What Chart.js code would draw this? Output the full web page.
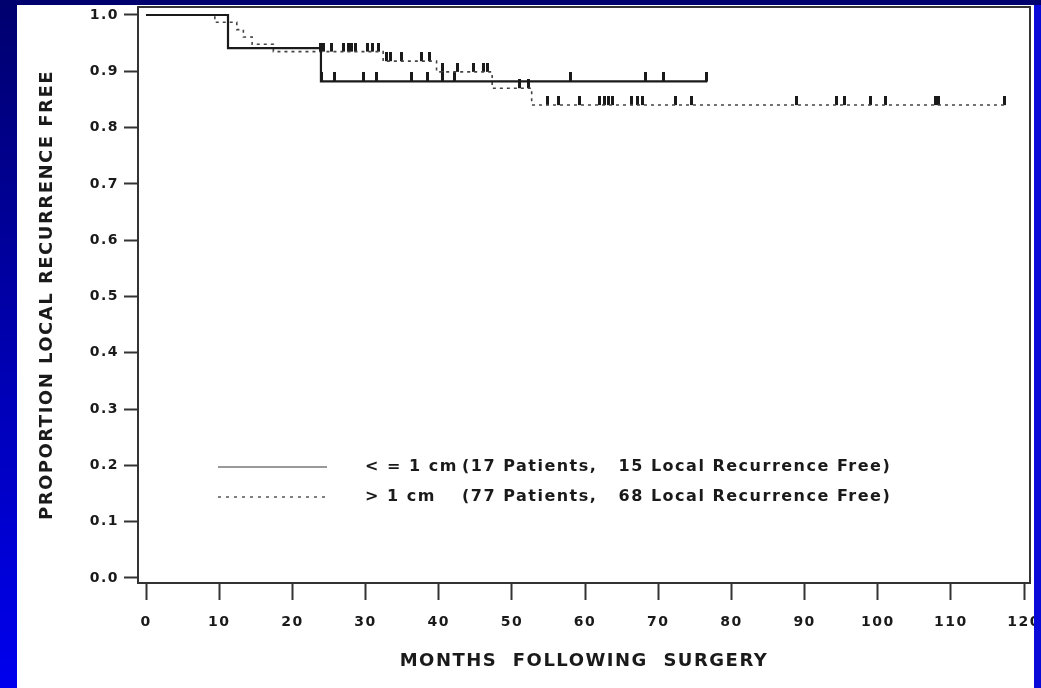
<!DOCTYPE html>
<html>
<head>
<meta charset="utf-8">
<script src="https://cdn.jsdelivr.net/npm/chart.js@4.4.1/dist/chart.umd.min.js"></script>
<style>
  html, body { margin: 0; padding: 0; background: #fff; overflow: hidden; }
  canvas { display: block; }
</style>
</head>
<body>
<canvas id="kmChart" width="1041" height="688"></canvas>
<script>
// Kaplan-Meier steps: month of each drop and the proportion after it
const smallTimes = [0, 11.2, 23.9, 76.7];
const smallSurv  = [1.0, 0.941, 0.882, 0.882];
const smallCensored = [24.0, 25.7, 29.7, 31.5, 36.3, 38.4, 40.5, 42.2, 58.0, 68.2, 70.7, 76.6];

const largeTimes = [0, 9.4, 12.4, 13.3, 14.5, 17.4, 32.4, 39.7, 47.3, 52.7, 117.3];
const largeSurv  = [1.0, 0.987, 0.974, 0.961, 0.948, 0.935, 0.918, 0.899, 0.870, 0.840, 0.840];
const largeCensored = [23.8, 24.2, 25.3, 27.0, 27.6, 28.1, 28.6, 30.3, 30.9, 31.8,
                       32.8, 33.4, 34.9, 37.7, 38.8,
                       40.5, 42.5, 44.7, 46.1, 46.6,
                       51.1, 52.2,
                       54.8, 56.4, 59.3, 62.0, 62.6, 63.2, 63.8, 66.4, 67.1, 67.9, 72.4, 74.6,
                       88.9, 94.3, 95.4, 99.0, 101.0, 107.9, 108.3, 117.3];

const groupLabels = ['< = 1 cm', '> 1 cm'];
const patientCounts = [17, 77];
const freeCounts = [15, 68];

const xTickValues = [0, 10, 20, 30, 40, 50, 60, 70, 80, 90, 100, 110, 120];
const yTickValues = [0, 0.1, 0.2, 0.3, 0.4, 0.5, 0.6, 0.7, 0.8, 0.9, 1.0];

const FONT = 'DejaVu Sans';
const INK = '#1a1a1a';

function survAt(times, surv, t) {
  let s = surv[0];
  for (let i = 0; i < times.length; i++) {
    if (times[i] <= t) s = surv[i];
  }
  return s;
}

// little vertical bar standing on the curve (lower half of the canvas is empty)
function censorMark(w, h, color) {
  const c = document.createElement('canvas');
  c.width = w;
  c.height = h * 2;
  const g = c.getContext('2d');
  g.fillStyle = color;
  g.fillRect(0, 0, w, h);
  return c;
}

const framePlugin = {
  id: 'frame',
  beforeDraw(chart) {
    const { ctx, width, height } = chart;
    ctx.save();
    ctx.fillStyle = '#fff';
    ctx.fillRect(0, 0, width, height);
    const grad = ctx.createLinearGradient(0, 0, 0, height);
    grad.addColorStop(0, '#00006e');
    grad.addColorStop(1, '#0000ee');
    ctx.fillStyle = grad;
    ctx.fillRect(0, 0, 17, height);
    ctx.restore();
    // the scanned lettering is wide, open it up a little
    ctx.letterSpacing = '1.5px';
  },
  afterDraw(chart) {
    const { ctx, width, height, chartArea: a } = chart;
    ctx.save();
    ctx.strokeStyle = '#333';
    ctx.lineWidth = 2;
    ctx.strokeRect(a.left, a.top, a.right - a.left, a.bottom - a.top);

    // legend inside the plot
    const sx = a.left + 80, ex = a.left + 189;
    const tx = a.left + 227, px = a.left + 324;
    const rows = [a.top + 460, a.top + 490];
    ctx.font = 'bold 16px "' + FONT + '"';
    ctx.textBaseline = 'middle';
    ctx.fillStyle = INK;
    rows.forEach((y, i) => {
      ctx.beginPath();
      ctx.lineWidth = 1.5;
      if (i === 0) { ctx.strokeStyle = '#777'; ctx.setLineDash([]); }
      else { ctx.strokeStyle = '#555'; ctx.setLineDash([3, 5]); }
      ctx.moveTo(sx, y);
      ctx.lineTo(ex, y);
      ctx.stroke();
      ctx.fillText(groupLabels[i], tx, y);
      ctx.fillText('(' + patientCounts[i] + ' Patients,   ' + freeCounts[i] + ' Local Recurrence Free)', px, y);
    });

    // slide border on the right and top, over the last tick label
    ctx.fillStyle = '#0a0ad8';
    ctx.fillRect(width - 7, 0, 7, height);
    ctx.fillStyle = '#00006e';
    ctx.fillRect(0, 0, width, 5);
    ctx.restore();
    ctx.letterSpacing = '0px';
  }
};

const ctx = document.getElementById('kmChart').getContext('2d');

new Chart(ctx, {
  type: 'line',
  data: {
    datasets: [
      {
        label: groupLabels[0],
        data: smallTimes.map((t, i) => ({ x: t, y: smallSurv[i] })),
        stepped: true,
        borderColor: '#1a1a1a',
        borderWidth: 2.2,
        pointRadius: 0,
        fill: false
      },
      {
        label: groupLabels[1],
        data: largeTimes.map((t, i) => ({ x: t, y: largeSurv[i] })),
        stepped: true,
        borderColor: '#444',
        borderWidth: 1.6,
        borderDash: [3, 4],
        pointRadius: 0,
        fill: false
      },
      {
        type: 'scatter',
        label: 'censored ' + groupLabels[0],
        data: smallCensored.map(t => ({ x: t, y: survAt(smallTimes, smallSurv, t) })),
        pointStyle: censorMark(3, 9, '#1a1a1a'),
        pointRadius: 3
      },
      {
        type: 'scatter',
        label: 'censored ' + groupLabels[1],
        data: largeCensored.map(t => ({ x: t, y: survAt(largeTimes, largeSurv, t) })),
        pointStyle: censorMark(3, 9, '#1a1a1a'),
        pointRadius: 3
      }
    ]
  },
  options: {
    responsive: false,
    animation: false,
    layout: { padding: { top: 7, right: 11, left: 0, bottom: 0 } },
    plugins: {
      legend: { display: false },
      tooltip: { enabled: false }
    },
    scales: {
      x: {
        type: 'linear',
        min: -1.1,
        max: 120.8,
        afterBuildTicks: s => { s.ticks = xTickValues.map(v => ({ value: v })); },
        afterFit: s => { s.height = 105; s.paddingLeft = 0; s.paddingRight = 0; },
        ticks: {
          autoSkip: false,
          maxRotation: 0,
          padding: 14,
          color: INK,
          font: { family: FONT, size: 14, weight: 'bold' },
          callback: v => String(v)
        },
        grid: { drawOnChartArea: false, drawTicks: true, tickLength: 17, tickWidth: 2, tickColor: '#333' },
        border: { display: true, color: '#333', width: 2 },
        title: {
          display: true,
          text: 'MONTHS  FOLLOWING  SURGERY',
          color: INK,
          font: { family: FONT, size: 18, weight: 'bold' },
          padding: { top: 0, bottom: 16 }
        }
      },
      y: {
        type: 'linear',
        min: -0.0089,
        max: 1.0142,
        afterBuildTicks: s => { s.ticks = yTickValues.map(v => ({ value: v })); },
        afterFit: s => { s.width = 138; s.paddingTop = 0; s.paddingBottom = 0; },
        ticks: {
          padding: 5,
          color: INK,
          font: { family: FONT, size: 14, weight: 'bold' },
          callback: v => v.toFixed(1)
        },
        grid: { drawOnChartArea: false, drawTicks: true, tickLength: 14, tickWidth: 2, tickColor: '#333' },
        border: { display: true, color: '#333', width: 2 },
        title: {
          display: true,
          text: 'PROPORTION LOCAL RECURRENCE FREE',
          color: INK,
          font: { family: FONT, size: 18, weight: 'bold' },
          padding: { top: 37, bottom: 0 }
        }
      }
    }
  },
  plugins: [framePlugin]
});
</script>
</body>
</html>
